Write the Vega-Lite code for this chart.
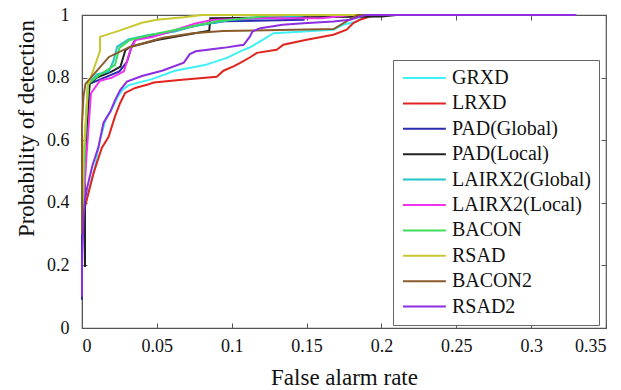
{
  "$schema": "https://vega.github.io/schema/vega-lite/v6.json",
  "autosize": {"type": "none"},
  "padding": {"left": 82, "top": 15, "right": 15, "bottom": 62},
  "width": 524,
  "height": 313,
  "background": "white",
  "config": {
    "view": {"stroke": "#555", "strokeWidth": 1.2},
    "font": "Liberation Serif, DejaVu Serif Condensed, DejaVu Serif, serif",
    "axis": {"grid": false, "domainColor": "#555", "tickColor": "#555", "labelFont": "Liberation Serif, DejaVu Serif Condensed, DejaVu Serif, serif", "titleFont": "Liberation Serif, DejaVu Serif Condensed, DejaVu Serif, serif", "labelFontSize": 18, "titleFontSize": 23, "labelColor": "#111", "titleColor": "#111", "titleFontWeight": "normal", "tickSize": -5, "labelPadding": 14}
  },
  "datasets": {
    "roc": [
      {"s":"GRXD","k":0,"x":0,"y":0.3},{"s":"GRXD","k":1,"x":0.001,"y":0.38},{"s":"GRXD","k":2,"x":0.004,"y":0.43},{"s":"GRXD","k":3,"x":0.008,"y":0.5},{"s":"GRXD","k":4,"x":0.012,"y":0.6},{"s":"GRXD","k":5,"x":0.016,"y":0.67},{"s":"GRXD","k":6,"x":0.02,"y":0.7},{"s":"GRXD","k":7,"x":0.024,"y":0.74},{"s":"GRXD","k":8,"x":0.0268,"y":0.76},{"s":"GRXD","k":9,"x":0.0312,"y":0.776},{"s":"GRXD","k":10,"x":0.0468,"y":0.795},{"s":"GRXD","k":11,"x":0.062,"y":0.822},{"s":"GRXD","k":12,"x":0.082,"y":0.84},{"s":"GRXD","k":13,"x":0.0968,"y":0.863},{"s":"GRXD","k":14,"x":0.1057,"y":0.884},{"s":"GRXD","k":15,"x":0.1123,"y":0.897},{"s":"GRXD","k":16,"x":0.119,"y":0.916},{"s":"GRXD","k":17,"x":0.128,"y":0.942},{"s":"GRXD","k":18,"x":0.168,"y":0.953},{"s":"GRXD","k":19,"x":0.1745,"y":0.969},{"s":"GRXD","k":20,"x":0.1835,"y":0.979},{"s":"GRXD","k":21,"x":0.19,"y":1.0},{"s":"GRXD","k":22,"x":0.33,"y":1.0},

      {"s":"LRXD","k":0,"x":0,"y":0.3},{"s":"LRXD","k":1,"x":0.001,"y":0.37},{"s":"LRXD","k":2,"x":0.0032,"y":0.41},{"s":"LRXD","k":3,"x":0.0077,"y":0.495},{"s":"LRXD","k":4,"x":0.0132,"y":0.575},{"s":"LRXD","k":5,"x":0.0177,"y":0.61},{"s":"LRXD","k":6,"x":0.0221,"y":0.677},{"s":"LRXD","k":7,"x":0.0255,"y":0.719},{"s":"LRXD","k":8,"x":0.0288,"y":0.751},{"s":"LRXD","k":9,"x":0.0355,"y":0.767},{"s":"LRXD","k":10,"x":0.044,"y":0.778},{"s":"LRXD","k":11,"x":0.048,"y":0.784},{"s":"LRXD","k":12,"x":0.065,"y":0.792},{"s":"LRXD","k":13,"x":0.09,"y":0.803},{"s":"LRXD","k":14,"x":0.0945,"y":0.822},{"s":"LRXD","k":15,"x":0.1012,"y":0.836},{"s":"LRXD","k":16,"x":0.1057,"y":0.847},{"s":"LRXD","k":17,"x":0.1123,"y":0.865},{"s":"LRXD","k":18,"x":0.1168,"y":0.879},{"s":"LRXD","k":19,"x":0.13,"y":0.889},{"s":"LRXD","k":20,"x":0.1345,"y":0.905},{"s":"LRXD","k":21,"x":0.15,"y":0.921},{"s":"LRXD","k":22,"x":0.1679,"y":0.937},{"s":"LRXD","k":23,"x":0.1768,"y":0.953},{"s":"LRXD","k":24,"x":0.1812,"y":0.974},{"s":"LRXD","k":25,"x":0.1857,"y":0.985},{"s":"LRXD","k":26,"x":0.195,"y":1.0},{"s":"LRXD","k":27,"x":0.33,"y":1.0},

      {"s":"PAD(Global)","k":0,"x":0,"y":0.09},{"s":"PAD(Global)","k":1,"x":0,"y":0.3},{"s":"PAD(Global)","k":2,"x":0.003,"y":0.6},{"s":"PAD(Global)","k":3,"x":0.005,"y":0.78},{"s":"PAD(Global)","k":4,"x":0.015,"y":0.8},{"s":"PAD(Global)","k":5,"x":0.025,"y":0.82},{"s":"PAD(Global)","k":6,"x":0.03,"y":0.85},{"s":"PAD(Global)","k":7,"x":0.0335,"y":0.904},{"s":"PAD(Global)","k":8,"x":0.036,"y":0.925},{"s":"PAD(Global)","k":9,"x":0.045,"y":0.93},{"s":"PAD(Global)","k":10,"x":0.08,"y":0.97},{"s":"PAD(Global)","k":11,"x":0.095,"y":0.98},{"s":"PAD(Global)","k":12,"x":0.148,"y":0.985},{"s":"PAD(Global)","k":13,"x":0.149,"y":1.0},{"s":"PAD(Global)","k":14,"x":0.33,"y":1.0},

      {"s":"PAD(Local)","k":0,"x":0.002,"y":0.195},{"s":"PAD(Local)","k":1,"x":0.002,"y":0.55},{"s":"PAD(Local)","k":2,"x":0.005,"y":0.78},{"s":"PAD(Local)","k":3,"x":0.01,"y":0.8},{"s":"PAD(Local)","k":4,"x":0.02,"y":0.82},{"s":"PAD(Local)","k":5,"x":0.0257,"y":0.835},{"s":"PAD(Local)","k":6,"x":0.029,"y":0.888},{"s":"PAD(Local)","k":7,"x":0.032,"y":0.898},{"s":"PAD(Local)","k":8,"x":0.05,"y":0.92},{"s":"PAD(Local)","k":9,"x":0.085,"y":0.95},{"s":"PAD(Local)","k":10,"x":0.0857,"y":0.99},{"s":"PAD(Local)","k":11,"x":0.2,"y":0.995},{"s":"PAD(Local)","k":12,"x":0.21,"y":1.0},{"s":"PAD(Local)","k":13,"x":0.33,"y":1.0},

      {"s":"LAIRX2(Global)","k":0,"x":0,"y":0.3},{"s":"LAIRX2(Global)","k":1,"x":0.002,"y":0.6},{"s":"LAIRX2(Global)","k":2,"x":0.004,"y":0.78},{"s":"LAIRX2(Global)","k":3,"x":0.01,"y":0.81},{"s":"LAIRX2(Global)","k":4,"x":0.018,"y":0.82},{"s":"LAIRX2(Global)","k":5,"x":0.0212,"y":0.856},{"s":"LAIRX2(Global)","k":6,"x":0.0235,"y":0.899},{"s":"LAIRX2(Global)","k":7,"x":0.031,"y":0.922},{"s":"LAIRX2(Global)","k":8,"x":0.0445,"y":0.936},{"s":"LAIRX2(Global)","k":9,"x":0.062,"y":0.947},{"s":"LAIRX2(Global)","k":10,"x":0.0735,"y":0.963},{"s":"LAIRX2(Global)","k":11,"x":0.085,"y":0.973},{"s":"LAIRX2(Global)","k":12,"x":0.1,"y":0.985},{"s":"LAIRX2(Global)","k":13,"x":0.13,"y":0.99},{"s":"LAIRX2(Global)","k":14,"x":0.15,"y":1.0},{"s":"LAIRX2(Global)","k":15,"x":0.33,"y":1.0},

      {"s":"LAIRX2(Local)","k":0,"x":0,"y":0.3},{"s":"LAIRX2(Local)","k":1,"x":0.003,"y":0.55},{"s":"LAIRX2(Local)","k":2,"x":0.006,"y":0.75},{"s":"LAIRX2(Local)","k":3,"x":0.012,"y":0.79},{"s":"LAIRX2(Local)","k":4,"x":0.02,"y":0.8},{"s":"LAIRX2(Local)","k":5,"x":0.028,"y":0.82},{"s":"LAIRX2(Local)","k":6,"x":0.0323,"y":0.888},{"s":"LAIRX2(Local)","k":7,"x":0.0357,"y":0.92},{"s":"LAIRX2(Local)","k":8,"x":0.0468,"y":0.93},{"s":"LAIRX2(Local)","k":9,"x":0.0623,"y":0.952},{"s":"LAIRX2(Local)","k":10,"x":0.0757,"y":0.973},{"s":"LAIRX2(Local)","k":11,"x":0.0868,"y":0.984},{"s":"LAIRX2(Local)","k":12,"x":0.12,"y":0.99},{"s":"LAIRX2(Local)","k":13,"x":0.16,"y":0.99},{"s":"LAIRX2(Local)","k":14,"x":0.18,"y":1.0},{"s":"LAIRX2(Local)","k":15,"x":0.33,"y":1.0},

      {"s":"BACON","k":0,"x":0,"y":0.3},{"s":"BACON","k":1,"x":0.002,"y":0.6},{"s":"BACON","k":2,"x":0.004,"y":0.78},{"s":"BACON","k":3,"x":0.012,"y":0.81},{"s":"BACON","k":4,"x":0.022,"y":0.84},{"s":"BACON","k":5,"x":0.025,"y":0.895},{"s":"BACON","k":6,"x":0.032,"y":0.92},{"s":"BACON","k":7,"x":0.045,"y":0.935},{"s":"BACON","k":8,"x":0.07,"y":0.96},{"s":"BACON","k":9,"x":0.09,"y":0.98},{"s":"BACON","k":10,"x":0.11,"y":0.99},{"s":"BACON","k":11,"x":0.13,"y":1.0},{"s":"BACON","k":12,"x":0.33,"y":1.0},

      {"s":"RSAD","k":0,"x":0,"y":0.35},{"s":"RSAD","k":1,"x":0.001,"y":0.55},{"s":"RSAD","k":2,"x":0.003,"y":0.7},{"s":"RSAD","k":3,"x":0.004,"y":0.775},{"s":"RSAD","k":4,"x":0.012,"y":0.885},{"s":"RSAD","k":5,"x":0.012,"y":0.93},{"s":"RSAD","k":6,"x":0.025,"y":0.95},{"s":"RSAD","k":7,"x":0.04,"y":0.975},{"s":"RSAD","k":8,"x":0.05,"y":0.985},{"s":"RSAD","k":9,"x":0.068,"y":0.993},{"s":"RSAD","k":10,"x":0.08,"y":1.0},{"s":"RSAD","k":11,"x":0.33,"y":1.0},

      {"s":"BACON2","k":0,"x":0,"y":0.3},{"s":"BACON2","k":1,"x":0,"y":0.65},{"s":"BACON2","k":2,"x":0.001,"y":0.74},{"s":"BACON2","k":3,"x":0.0023,"y":0.78},{"s":"BACON2","k":4,"x":0.018,"y":0.866},{"s":"BACON2","k":5,"x":0.032,"y":0.898},{"s":"BACON2","k":6,"x":0.054,"y":0.927},{"s":"BACON2","k":7,"x":0.074,"y":0.942},{"s":"BACON2","k":8,"x":0.094,"y":0.949},{"s":"BACON2","k":9,"x":0.168,"y":0.955},{"s":"BACON2","k":10,"x":0.184,"y":1.0},{"s":"BACON2","k":11,"x":0.33,"y":1.0},

      {"s":"RSAD2","k":0,"x":0,"y":0.1},{"s":"RSAD2","k":1,"x":0,"y":0.2},{"s":"RSAD2","k":2,"x":0.001,"y":0.35},{"s":"RSAD2","k":3,"x":0.002,"y":0.41},{"s":"RSAD2","k":4,"x":0.0035,"y":0.45},{"s":"RSAD2","k":5,"x":0.007,"y":0.52},{"s":"RSAD2","k":6,"x":0.011,"y":0.578},{"s":"RSAD2","k":7,"x":0.0143,"y":0.655},{"s":"RSAD2","k":8,"x":0.0188,"y":0.69},{"s":"RSAD2","k":9,"x":0.0221,"y":0.728},{"s":"RSAD2","k":10,"x":0.0255,"y":0.76},{"s":"RSAD2","k":11,"x":0.03,"y":0.787},{"s":"RSAD2","k":12,"x":0.04,"y":0.805},{"s":"RSAD2","k":13,"x":0.0535,"y":0.822},{"s":"RSAD2","k":14,"x":0.068,"y":0.848},{"s":"RSAD2","k":15,"x":0.072,"y":0.875},{"s":"RSAD2","k":16,"x":0.076,"y":0.884},{"s":"RSAD2","k":17,"x":0.0945,"y":0.895},{"s":"RSAD2","k":18,"x":0.108,"y":0.905},{"s":"RSAD2","k":19,"x":0.112,"y":0.93},{"s":"RSAD2","k":20,"x":0.114,"y":0.948},{"s":"RSAD2","k":21,"x":0.119,"y":0.958},{"s":"RSAD2","k":22,"x":0.134,"y":0.969},{"s":"RSAD2","k":23,"x":0.148,"y":0.974},{"s":"RSAD2","k":24,"x":0.168,"y":0.979},{"s":"RSAD2","k":25,"x":0.179,"y":0.985},{"s":"RSAD2","k":26,"x":0.186,"y":0.995},{"s":"RSAD2","k":27,"x":0.19,"y":1.0},{"s":"RSAD2","k":28,"x":0.33,"y":1.0}
    ]
  },
  "data": {"name": "roc"},
  "resolve": {"axis": {"x": "independent", "y": "independent"}},
  "layer": [
    {
      "mark": {"type": "line", "strokeWidth": 2},
      "encoding": {
        "x": {"field": "x", "type": "quantitative", "scale": {"domain": [0, 0.35], "nice": false},
              "axis": {"orient": "bottom", "values": [0, 0.05, 0.1, 0.15, 0.2, 0.25, 0.3, 0.35], "format": "~g", "title": "False alarm rate", "titleBaseline": "alphabetic", "titleY": 56}},
        "y": {"field": "y", "type": "quantitative", "scale": {"domain": [0, 1], "nice": false},
              "axis": {"orient": "left", "values": [0, 0.2, 0.4, 0.6, 0.8, 1], "format": "~g", "labelPadding": 18, "title": "Probability of detection", "titleY": 113, "titleX": -44, "titleBaseline": "bottom"}},
        "order": {"field": "k", "type": "quantitative"},
        "color": {"field": "s", "type": "nominal",
          "scale": {
            "domain": ["GRXD", "LRXD", "PAD(Global)", "PAD(Local)", "LAIRX2(Global)", "LAIRX2(Local)", "BACON", "RSAD", "BACON2", "RSAD2"],
            "range": ["#3ff0f5", "#e0241e", "#2a2ab0", "#222222", "#22c4c4", "#f032ee", "#3edc5c", "#c8c830", "#8b5a2b", "#8c2ee0"]
          },
          "legend": {"orient": "none", "legendX": 311, "legendY": 45, "title": null, "symbolType": "M-1.5,0H6.5", "symbolSize": 115, "symbolStrokeWidth": 2, "symbolFillColor": "transparent", "labelFont": "Liberation Serif, DejaVu Serif Condensed, DejaVu Serif, serif", "labelFontSize": 20, "labelColor": "#111", "labelLimit": 400, "padding": 8, "rowPadding": 5.4, "strokeColor": "#666", "fillColor": "white", "labelOffset": 31}
        }
      }
    },
    {
      "mark": {"type": "point", "opacity": 0},
      "encoding": {
        "x": {"field": "x", "type": "quantitative", "axis": {"orient": "top", "values": [0, 0.05, 0.1, 0.15, 0.2, 0.25, 0.3, 0.35], "labels": false, "domain": false, "title": null}},
        "y": {"field": "y", "type": "quantitative", "axis": {"orient": "right", "values": [0, 0.2, 0.4, 0.6, 0.8, 1], "labels": false, "domain": false, "title": null}}
      }
    }
  ]
}
